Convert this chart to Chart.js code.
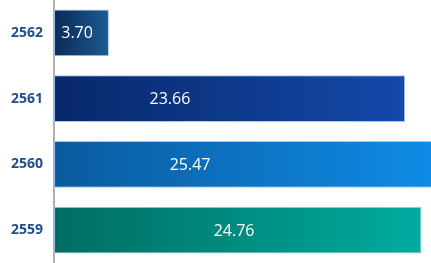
<!DOCTYPE html>
<html>
<head>
<meta charset="utf-8">
<script src="https://cdn.jsdelivr.net/npm/chart.js@4/dist/chart.umd.min.js"></script>
<style>
  html, body { margin: 0; padding: 0; background: #fff; }
  #wrap { width: 431px; height: 263px; position: relative; }
</style>
</head>
<body>
<div id="wrap"><canvas id="chart"></canvas></div>
<script>
// ---------- data ----------
const years = ["2562", "2561", "2560", "2559"];
const values = [3.70, 23.66, 25.47, 24.76];

// gradient stops per bar (left -> right)
const gradStops = [
  ["#0a2b58", "#1c5b90"],
  ["#08286a", "#1449aa"],
  ["#0a5b9e", "#0f8be6"],
  ["#006d63", "#00ab9f"]
];
// where the value label sits along each bar (0 = start, 1 = end)
const labelAt = [0.42, 0.33, 0.36, 0.49];

function barGradient(ctx) {
  const chart = ctx.chart;
  const area = chart.chartArea;
  const stops = gradStops[ctx.dataIndex];
  if (!area) return stops[0];
  const x = chart.scales.x;
  const x0 = x.getPixelForValue(0);
  const x1 = x.getPixelForValue(values[ctx.dataIndex]);
  const g = chart.ctx.createLinearGradient(x0, 0, x1, 0);
  g.addColorStop(0, stops[0]);
  g.addColorStop(1, stops[1]);
  return g;
}

const valueLabels = {
  id: "valueLabels",
  afterDatasetsDraw(chart) {
    const c = chart.ctx;
    const meta = chart.getDatasetMeta(0);
    c.save();
    c.fillStyle = "#ffffff";
    c.font = "16px 'Open Sans', sans-serif";
    c.textAlign = "center";
    c.textBaseline = "middle";
    meta.data.forEach((bar, i) => {
      const px = bar.base + (bar.x - bar.base) * labelAt[i];
      c.fillText(values[i].toFixed(2), px, bar.y + 1);
    });
    c.restore();
  }
};

new Chart(document.getElementById("chart"), {
  type: "bar",
  data: {
    labels: years,
    datasets: [{
      data: values,
      backgroundColor: barGradient,
      borderColor: "rgba(150,190,235,0.85)",
      borderWidth: 1,
      borderSkipped: false,
      categoryPercentage: 0.71,
      barPercentage: 1
    }]
  },
  options: {
    indexAxis: "y",
    responsive: true,
    maintainAspectRatio: false,
    animation: false,
    layout: { padding: 0 },
    plugins: { legend: { display: false }, tooltip: { enabled: false } },
    scales: {
      x: { display: false, min: 0, max: 25.4 },
      y: {
        grid: { display: false, drawTicks: false },
        border: { display: true, color: "#b0b0b0", width: 2 },
        ticks: {
          color: "#1f4e8c",
          padding: 11,
          font: { family: "'Open Sans', sans-serif", size: 14, weight: "bold" }
        },
        // let the axis run the full height (no room kept for label overhang)
        afterFit(scale) {
          scale.paddingTop = 0;
          scale.paddingBottom = 0;
        }
      }
    }
  },
  plugins: [valueLabels]
});
</script>
</body>
</html>
